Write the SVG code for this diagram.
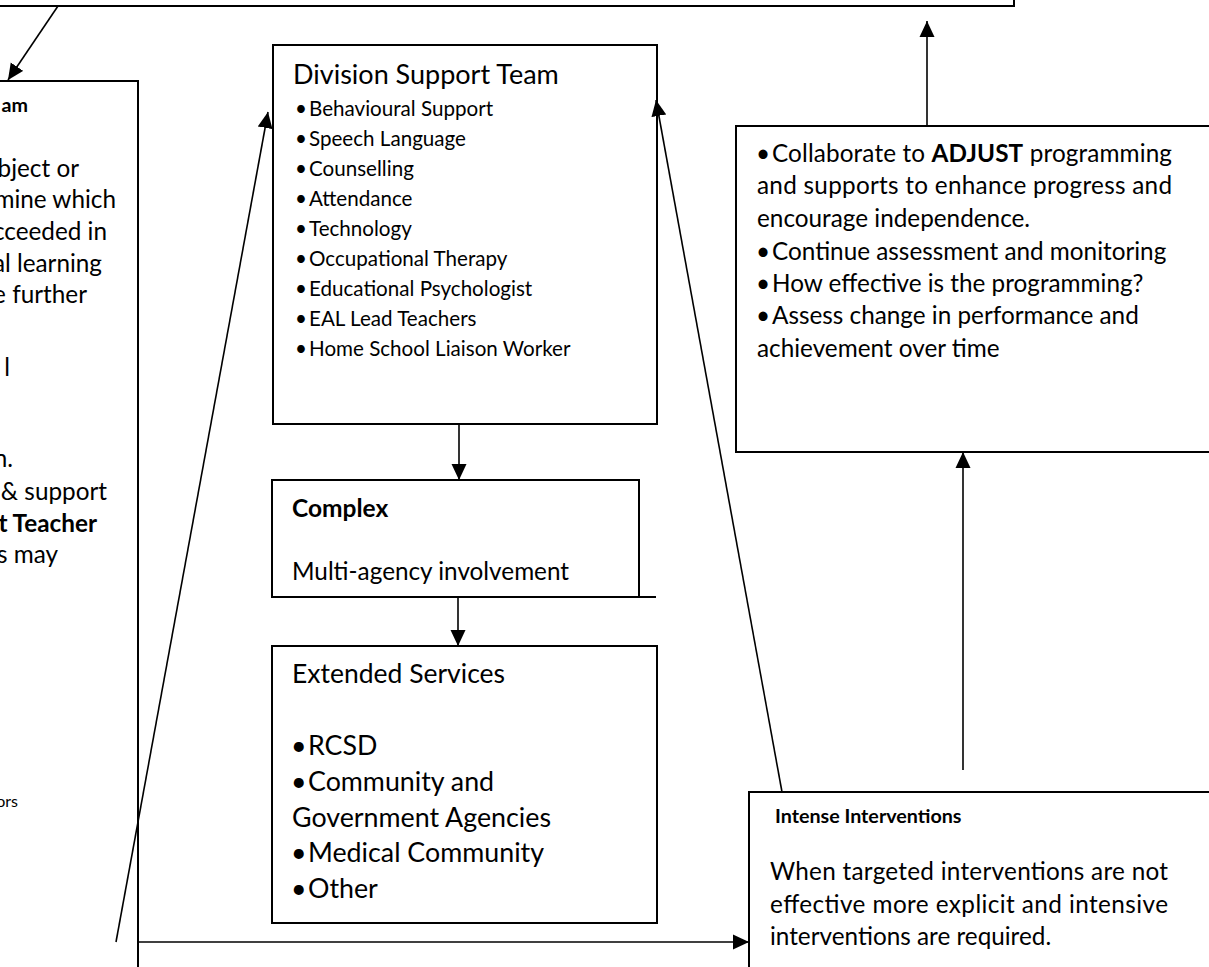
<svg xmlns="http://www.w3.org/2000/svg" width="1209" height="967" viewBox="0 0 1209 967">
<style>
text { font-family: Lato, "Liberation Sans", sans-serif; fill: #000; }
.box { fill: #fff; stroke: #000; stroke-width: 2; }
.conn { fill: none; stroke: #000; stroke-width: 1.6; }
.b { font-weight: bold; }
.l22 { font-size: 24.3px; }
.dst { font-size: 20.6px; }
.ext { font-size: 26.8px; }
.small-b { font-size: 19.7px; font-weight: bold; }
</style>
<defs>
<marker id="ah" markerUnits="userSpaceOnUse" markerWidth="16" markerHeight="16" viewBox="0 0 16 16" refX="16" refY="8" orient="auto">
<path d="M0,0.5 L16,8 L0,15.5 z" fill="#000"/>
</marker>
</defs>
<rect width="1209" height="967" fill="#fff"/>

<g id="top-box">
<rect class="box" x="-20" y="-60" width="1034" height="66"/>
</g>

<g id="school-team">
<rect class="box" x="-60" y="81" width="198" height="1000"/>
<g text-anchor="end" class="l22">
<text class="small-b" x="28" y="112">am</text>
<text x="79" y="177">bject or</text>
<text x="116" y="208">mine which</text>
<text x="107" y="240">cceeded in</text>
<text x="102" y="272">al learning</text>
<text x="87" y="303">e further</text>
<text x="10" y="376">l</text>
<text x="13" y="467">n.</text>
<text x="107" y="500">&amp; support</text>
<text class="b" x="97" y="532">t Teacher</text>
<text x="58" y="563">s may</text>
<text x="18" y="807" style="font-size:16px">ors</text>
</g>
</g>

<g id="division-support-team">
<rect class="box" x="273" y="45" width="384" height="379"/>
<text x="293" y="84" style="font-size:27px">Division Support Team</text>
<g class="dst">
<text x="295" y="116">•</text><text x="309" y="116">Behavioural Support</text>
<text x="295" y="146">•</text><text x="309" y="146">Speech Language</text>
<text x="295" y="176">•</text><text x="309" y="176">Counselling</text>
<text x="295" y="206">•</text><text x="309" y="206">Attendance</text>
<text x="295" y="236">•</text><text x="309" y="236">Technology</text>
<text x="295" y="266">•</text><text x="309" y="266">Occupational Therapy</text>
<text x="295" y="296">•</text><text x="309" y="296">Educational Psychologist</text>
<text x="295" y="326">•</text><text x="309" y="326">EAL Lead Teachers</text>
<text x="295" y="356">•</text><text x="309" y="356">Home School Liaison Worker</text>
</g>
</g>

<g id="complex">
<rect class="box" x="272" y="480" width="367" height="117"/>
<line x1="639" y1="597" x2="656" y2="597" stroke="#000" stroke-width="2"/>
<text class="b" x="292" y="517" style="font-size:24.5px">Complex</text>
<text class="l22" x="292" y="580">Multi-agency involvement</text>
</g>

<g id="extended-services">
<rect class="box" x="272" y="646" width="385" height="277"/>
<text x="292" y="683" style="font-size:26.5px">Extended Services</text>
<g class="ext">
<text x="291" y="755">•</text><text x="308" y="755">RCSD</text>
<text x="291" y="791">•</text><text x="308" y="791">Community and</text>
<text x="292" y="827">Government Agencies</text>
<text x="291" y="862">•</text><text x="308" y="862">Medical Community</text>
<text x="291" y="898">•</text><text x="308" y="898">Other</text>
</g>
</g>

<g id="adjust">
<rect class="box" x="736" y="126" width="600" height="326"/>
<g class="l22">
<text x="756" y="162">•</text>
<text x="772" y="162" textLength="400" lengthAdjust="spacing">Collaborate to <tspan class="b">ADJUST</tspan> programming</text>
<text x="757" y="194" textLength="415" lengthAdjust="spacing">and supports to enhance progress and</text>
<text x="757" y="227">encourage independence.</text>
<text x="756" y="260">•</text><text x="772" y="260">Continue assessment and monitoring</text>
<text x="756" y="292">•</text><text x="772" y="292">How effective is the programming?</text>
<text x="756" y="324">•</text><text x="772" y="324">Assess change in performance and</text>
<text x="757" y="357">achievement over time</text>
</g>
</g>

<g id="intense-interventions">
<rect class="box" x="749" y="792" width="600" height="300"/>
<text class="small-b" x="775" y="823">Intense Interventions</text>
<g class="l22">
<text x="770" y="880" textLength="398" lengthAdjust="spacing">When targeted interventions are not</text>
<text x="770" y="913" textLength="398" lengthAdjust="spacing">effective more explicit and intensive</text>
<text x="770" y="945">interventions are required.</text>
</g>
</g>

<g id="connectors">
<line class="conn" x1="58" y1="6" x2="8" y2="80" marker-end="url(#ah)"/>
<line class="conn" x1="116" y1="942" x2="268" y2="112" marker-end="url(#ah)"/>
<line class="conn" x1="782" y1="792" x2="656" y2="100" marker-end="url(#ah)"/>
<line class="conn" x1="459" y1="424" x2="459" y2="480" marker-end="url(#ah)"/>
<line class="conn" x1="458" y1="597" x2="458" y2="646" marker-end="url(#ah)"/>
<line class="conn" x1="138" y1="942" x2="749" y2="942" marker-end="url(#ah)"/>
<line class="conn" x1="963" y1="770" x2="963" y2="452" marker-end="url(#ah)"/>
<line class="conn" x1="927" y1="126" x2="927" y2="21" marker-end="url(#ah)"/>
</g>
</svg>
